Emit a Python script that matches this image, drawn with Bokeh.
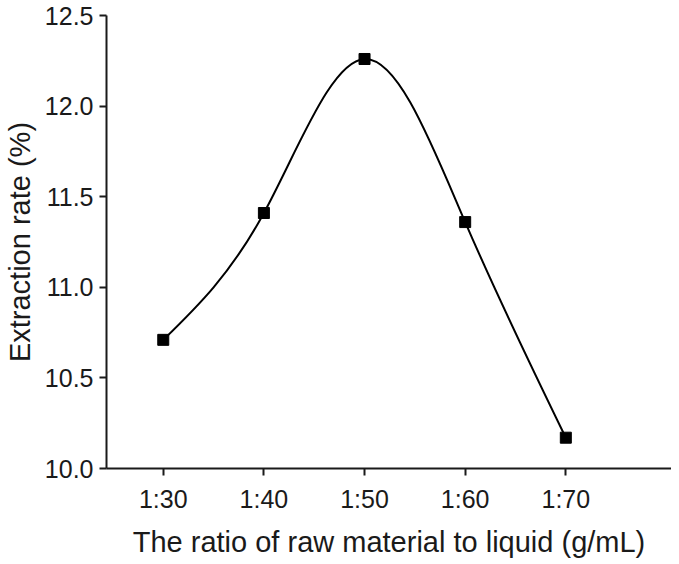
import numpy as np
from bokeh.plotting import figure
from bokeh.embed import file_html
from bokeh.resources import INLINE
from bokeh.models import FixedTicker

categories = ["1:30", "1:40", "1:50", "1:60", "1:70"]
extraction = [10.71, 11.41, 12.26, 11.36, 10.17]
y_ticks = [10.0, 10.5, 11.0, 11.5, 12.0, 12.5]
y_tick_labels = ["10.0", "10.5", "11.0", "11.5", "12.0", "12.5"]

xs = list(range(len(categories)))
n = len(xs)

p = figure(width=671, height=560, output_backend="svg", toolbar_location=None,
           x_range=(-0.564, 5.05), y_range=(10.0, 12.5),
           min_border_left=104, min_border_top=15, min_border_bottom=90, min_border_right=0)
p.outline_line_color = None
p.grid.visible = False
p.background_fill_color = "white"
p.border_fill_color = "white"

# natural cubic spline through the data points, drawn as Bezier segments
y = np.array(extraction, dtype=float)
A = np.zeros((n, n)); b = np.zeros(n)
A[0, 0] = 1; A[-1, -1] = 1
for i in range(1, n - 1):
    A[i, i - 1] = 1; A[i, i] = 4; A[i, i + 1] = 1
    b[i] = 6 * (y[i + 1] - 2 * y[i] + y[i - 1])
M = np.linalg.solve(A, b)
m = np.zeros(n)
for i in range(n - 1):
    m[i] = (y[i + 1] - y[i]) - (2 * M[i] + M[i + 1]) / 6
m[-1] = (y[-1] - y[-2]) + (M[-2] + 2 * M[-1]) / 6

x0 = xs[:-1]; x1 = xs[1:]
y0 = list(y[:-1]); y1 = list(y[1:])
cx0 = [xi + 1 / 3 for xi in x0]; cx1 = [xi - 1 / 3 for xi in x1]
cy0 = [y[i] + m[i] / 3 for i in range(n - 1)]
cy1 = [y[i + 1] - m[i + 1] / 3 for i in range(n - 1)]

p.bezier(x0=x0, y0=y0, x1=x1, y1=y1, cx0=cx0, cy0=cy0, cx1=cx1, cy1=cy1,
         line_color="black", line_width=2)
p.scatter(xs, extraction, marker="square", size=11, color="black")

font = "Liberation Sans"
for ax in (p.xaxis[0], p.yaxis[0]):
    ax.axis_line_width = 2
    ax.axis_line_color = "#1a1a1a"
    ax.major_tick_line_width = 2
    ax.major_tick_line_color = "#1a1a1a"
    ax.major_tick_out = 7
    ax.major_tick_in = 0
    ax.minor_tick_line_color = None
    ax.major_label_text_font = font
    ax.major_label_text_font_size = "25px"
    ax.major_label_text_color = "#1a1a1a"
    ax.axis_label_text_font = font
    ax.axis_label_text_font_size = "29px"
    ax.axis_label_text_font_style = "normal"
    ax.axis_label_text_color = "#1a1a1a"

p.xaxis[0].ticker = FixedTicker(ticks=xs)
p.xaxis[0].major_label_overrides = {i: c for i, c in zip(xs, categories)}
p.xaxis[0].axis_label = "The ratio of raw material to liquid (g/mL)"
p.xaxis[0].major_label_standoff = 9
p.xaxis[0].axis_label_standoff = 10

p.yaxis[0].ticker = FixedTicker(ticks=y_ticks)
p.yaxis[0].major_label_overrides = {t: s for t, s in zip(y_ticks, y_tick_labels)}
p.yaxis[0].axis_label = "Extraction rate (%)"
p.yaxis[0].major_label_standoff = 6
p.yaxis[0].axis_label_standoff = 6

open("out.html", "w").write(file_html(p, INLINE))
